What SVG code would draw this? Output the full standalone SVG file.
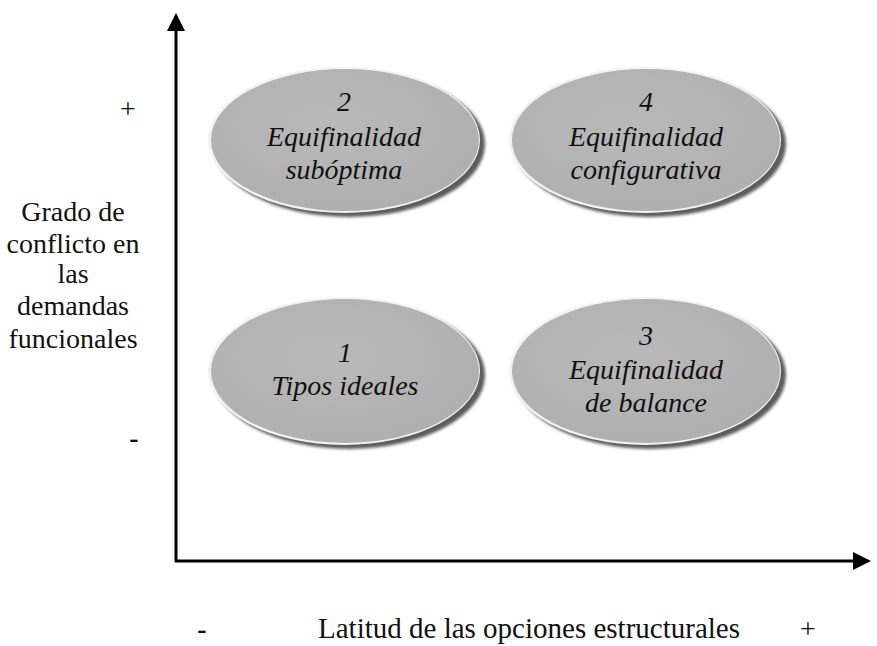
<svg xmlns="http://www.w3.org/2000/svg" width="877" height="646" viewBox="0 0 877 646">
<style>
.lbl{font-family:'Liberation Serif','DejaVu Serif',serif;font-size:28px;fill:#111;text-anchor:middle}
.nt{font-family:'Liberation Serif','DejaVu Serif',serif;font-size:28px;font-style:italic;fill:#111;text-anchor:middle}
.shadow{fill:#5c5c5c;filter:url(#blur)}
.rim{fill:#f2f2f2}
.body{fill:url(#g)}
.axis{stroke:#000;stroke-width:3;fill:none}
</style>
<defs>
<filter id="blur" x="-10%" y="-10%" width="120%" height="120%"><feGaussianBlur stdDeviation="1.6"/></filter>
<radialGradient id="g" cx="0.45" cy="0.4" r="0.7">
<stop offset="0" stop-color="#b9b9b9"/>
<stop offset="1" stop-color="#aeaeae"/>
</radialGradient>
<marker id="arr" markerWidth="6" markerHeight="6" refX="5" refY="3" orient="auto" markerUnits="strokeWidth">
<path d="M0,0 L6,3 L0,6 z" fill="#000"/>
</marker>
</defs>
<rect width="877" height="646" fill="#fff"/>
<g id="connectors">
<line class="axis" x1="176" y1="562" x2="176" y2="16" marker-end="url(#arr)"/>
<line class="axis" x1="175" y1="561" x2="868" y2="561" marker-end="url(#arr)"/>
</g>
<g id="node2">
<ellipse class="shadow" cx="349" cy="144" rx="136" ry="73"/>
<ellipse class="rim" cx="344" cy="140" rx="136" ry="73"/>
<ellipse class="body" cx="345" cy="140" rx="134" ry="71"/>
<text class="nt" x="344" y="111">2</text>
<text class="nt" x="344" y="146">Equifinalidad</text>
<text class="nt" x="344" y="179">subóptima</text>
</g>
<g id="node4">
<ellipse class="shadow" cx="650" cy="144" rx="136" ry="73"/>
<ellipse class="rim" cx="645" cy="140" rx="136" ry="73"/>
<ellipse class="body" cx="646" cy="140" rx="134" ry="71"/>
<text class="nt" x="646" y="111">4</text>
<text class="nt" x="646" y="146">Equifinalidad</text>
<text class="nt" x="646" y="179">configurativa</text>
</g>
<g id="node1">
<ellipse class="shadow" cx="349" cy="375" rx="136" ry="74"/>
<ellipse class="rim" cx="344" cy="371" rx="136" ry="74"/>
<ellipse class="body" cx="345" cy="371" rx="134" ry="72"/>
<text class="nt" x="345" y="362">1</text>
<text class="nt" x="345" y="395">Tipos ideales</text>
</g>
<g id="node3">
<ellipse class="shadow" cx="650" cy="375" rx="136" ry="74"/>
<ellipse class="rim" cx="645" cy="371" rx="136" ry="74"/>
<ellipse class="body" cx="646" cy="371" rx="134" ry="72"/>
<text class="nt" x="646" y="345">3</text>
<text class="nt" x="646" y="379">Equifinalidad</text>
<text class="nt" x="646" y="412">de balance</text>
</g>
<g id="ylabels">
<text class="lbl" x="128" y="118">+</text>
<text class="lbl" x="73" y="221">Grado de</text>
<text class="lbl" x="73" y="253">conflicto en</text>
<text class="lbl" x="73" y="283">las</text>
<text class="lbl" x="73" y="315">demandas</text>
<text class="lbl" x="73" y="348">funcionales</text>
<text class="lbl" x="134" y="447" style="font-weight:bold">-</text>
</g>
<g id="xlabels">
<text class="lbl" x="202" y="638" style="font-weight:bold">-</text>
<text class="lbl" x="529" y="638" style="font-size:29px">Latitud de las opciones estructurales</text>
<text class="lbl" x="808" y="638">+</text>
</g>
</svg>
